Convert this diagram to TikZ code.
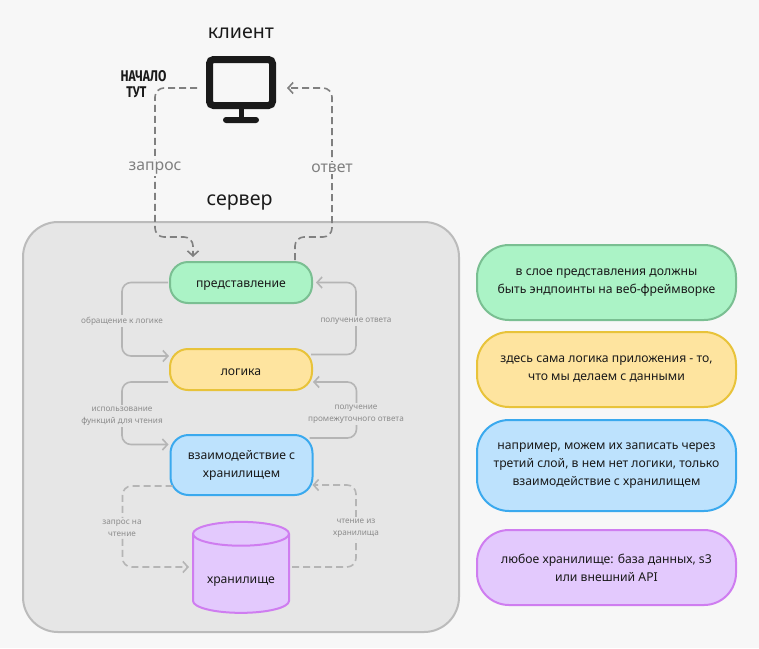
\documentclass[tikz,border=0pt]{standalone}
\usepackage{fontspec}
\setmainfont{Noto Sans}
\newfontfamily\handfont{Fira Sans}
\usepackage{xcolor}
\usetikzlibrary{arrows.meta,shapes.geometric}
\definecolor{pagebg}{HTML}{F7F7F7}
\definecolor{serverbg}{HTML}{E6E6E6}
\definecolor{serverline}{HTML}{BBBBBB}
\definecolor{greenbg}{HTML}{ABF3C6}
\definecolor{greenline}{HTML}{7ABF92}
\definecolor{greenlight}{HTML}{7ABF92}
\definecolor{yellowbg}{HTML}{FEE49F}
\definecolor{yellowline}{HTML}{E8C33A}
\definecolor{bluebg}{HTML}{BDE2FD}
\definecolor{blueline}{HTML}{3AA9EE}
\definecolor{purplebg}{HTML}{E3C9FD}
\definecolor{purpleline}{HTML}{CF7DF0}
\definecolor{linkgray}{HTML}{B5B5B5}
\definecolor{topgray}{HTML}{808080}
\definecolor{labelgray}{HTML}{8C8C8C}
\definecolor{inkdark}{HTML}{1A1A1A}

\begin{document}
\begin{tikzpicture}[x=1pt,y=-1pt,
  layer/.style={draw,rounded corners=18pt,line width=2pt,outer sep=0pt,minimum width=142pt,
    align=center,text=inkdark,font=\fontsize{12.2}{18}\selectfont,
    execute at begin node={\rule{0pt}{12pt}}},
  note/.style={draw,rounded corners=32pt,line width=2pt,outer sep=0pt,minimum width=259pt,
    align=center,text=inkdark,font=\fontsize{12.2}{18}\selectfont,
    execute at begin node={\rule{0pt}{20pt}}},
  title/.style={text=inkdark,font=\fontsize{19.6}{22}\selectfont},
  linklabel/.style={fill=serverbg,text=labelgray,align=center,inner sep=2pt,
    font=\fontsize{8.2}{12}\selectfont},
  toplabel/.style={fill=pagebg,text=topgray,inner sep=2pt,font=\fontsize{15.8}{17}\selectfont},
  link/.style={draw=linkgray,line width=1.6pt,rounded corners=9pt},
  dashlink/.style={link,dash pattern=on 7pt off 4pt},
  toplink/.style={draw=topgray,line width=1.6pt,rounded corners=9pt,dash pattern=on 7pt off 4pt},
  tip/.style={-{Straight Barb[length=5pt,width=11pt]}}]
  \useasboundingbox (0,0) rectangle (759,648);
  \fill[pagebg] (0,0) rectangle (759,648);
  \node[draw=serverline,fill=serverbg,line width=2pt,rounded corners=35pt,minimum width=436pt,
    minimum height=410pt] (server) at (241,427) {};

  % monitor
  \node[draw=inkdark,line width=7pt,rounded corners=4pt,outer sep=0pt,minimum width=63pt,
    minimum height=46pt,inner sep=0pt] (monitor) at (241,82.5) {};
  \node[fill=inkdark,minimum width=5pt,minimum height=9pt,inner sep=0pt] (stand) at (241,113) {};
  \node[fill=inkdark,rounded corners=3pt,minimum width=36pt,minimum height=6pt,inner sep=0pt]
    (foot) at (241,120) {};

  \node[title] (client) at (241,33) {клиент};
  \node[title] (srvname) at (239.5,202) {сервер};
  \node[align=center,text=inkdark,inner sep=0pt,xscale=0.78,transform shape,
    font=\handfont\bfseries\fontsize{15.5}{16}\selectfont]
    (start) at (143.5,84) {НАЧАЛО\\ТУТ\hspace{18pt}\mbox{}};

  \node[layer,fill=greenbg,draw=greenline,minimum height=41pt] (pres) at (241,282.5) {представление};
  \node[layer,fill=yellowbg,draw=yellowline,minimum height=41pt] (logic) at (241,369.5) {логика};
  \node[layer,fill=bluebg,draw=blueline,minimum height=60pt,execute at begin node={\rule{0pt}{19pt}}]
    (repo) at (241.5,465) {взаимодействие с\\хранилищем};
  \node[cylinder,shape border rotate=90,aspect=0.32,draw=purpleline,line width=2pt,outer sep=0pt,
    cylinder uses custom fill,cylinder body fill=purplebg,cylinder end fill=purplebg,
    minimum width=96pt,minimum height=91pt,text=inkdark,font=\fontsize{12.2}{18}\selectfont,
    execute at begin node={\rule{0pt}{17pt}}]
    (store) at (241,576) {хранилище};

  \node[note,fill=greenbg,draw=greenlight,minimum height=75pt] (n1) at (606.5,282.5)
    {в слое представления должны\\быть эндпоинты на веб-фреймворке};
  \node[note,fill=yellowbg,draw=yellowline,minimum height=75pt] (n2) at (606.5,369.5)
    {здесь сама логика приложения - то,\\что мы делаем с данными};
  \node[note,fill=bluebg,draw=blueline,minimum height=91pt] (n3) at (606.5,465.5)
    {например, можем их записать через\\третий слой, в нем нет логики, только\\взаимодействие с хранилищем};
  \node[note,fill=purplebg,draw=purpleline,minimum height=75pt] (n4) at (606.5,567.5)
    {любое хранилище: база данных, s3\\или внешний API};

  % client <-> server
  \draw[toplink,tip] ([shift={(-12.5,5.5)}]monitor.west) -- ++(-42,0) |- ++(38,149) -- ([shift={(-48,-5)}]pres.north);
  \draw[toplink,tip] ([shift={(54,-2)}]pres.north) -- ++(0,-23) -| ([shift={(59.5,5.5)}]monitor.east) -- ([shift={(14.5,5.5)}]monitor.east);
  \node[toplabel] (asklabel) at (155,168) {запрос};
  \node[toplabel] (anslabel) at (332,168) {ответ};

  % layers
  \draw[link,tip] ([shift={(-2,0)}]pres.west) -- ++(-46,0) |- ([shift={(-1,-13.5)}]logic.west);
  \draw[link,tip] ([shift={(-1,-15)}]logic.east) -- ++(45,0) |- ([shift={(4,0)}]pres.east);
  \node[linklabel] (l1) at (122,321) {обращение к логике};
  \node[linklabel] (l2) at (356,321) {получение ответа};

  \draw[link,tip] ([shift={(-2,12.5)}]logic.west) -- ++(-46,0) |- ([shift={(-2,-20.5)}]repo.west);
  \draw[link,tip] ([shift={(-3,-27)}]repo.east) -- ++(47,0) |- ([shift={(1,12.5)}]logic.east);
  \node[linklabel] (l3) at (122,416) {использование\\функций для чтения};
  \node[linklabel] (l4) at (356,414) {получение\\промежуточного ответа};

  \draw[dashlink,tip] ([shift={(2,21)}]repo.west) -- ++(-50,0) |- ([shift={(-4,-9)}]store.west);
  \draw[dashlink,tip] ([shift={(3,-9)}]store.east) -- ++(64,0) |- ([shift={(0,20)}]repo.east);
  \node[linklabel] (l5) at (122,528) {запрос на\\чтение};
  \node[linklabel] (l6) at (356,528) {чтение из\\хранилища};
\end{tikzpicture}
\end{document}
